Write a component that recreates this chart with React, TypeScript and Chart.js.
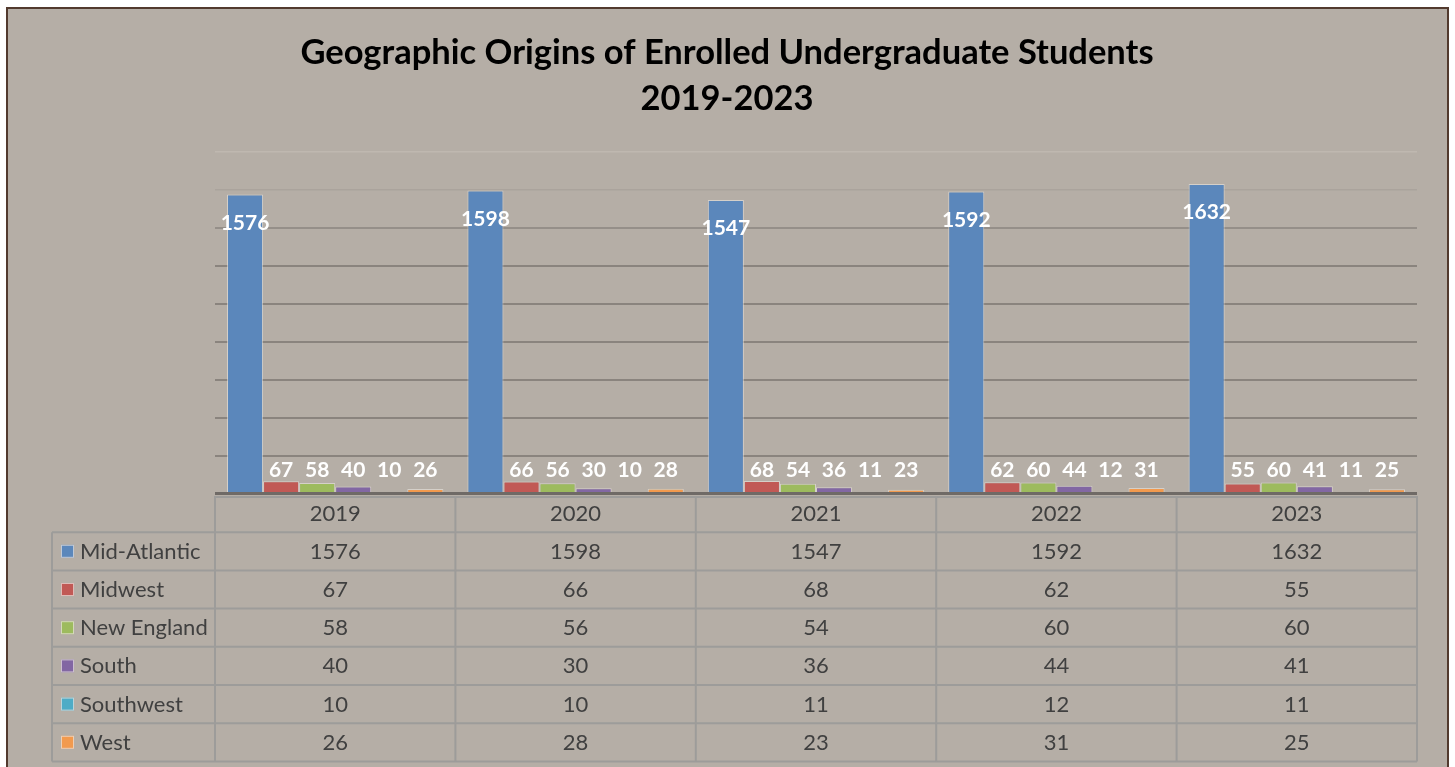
import React, { useEffect, useRef } from "react";
import { Chart, registerables } from "chart.js";

Chart.register(...registerables);

const years = ["2019", "2020", "2021", "2022", "2023"];
const regionNames = ["Mid-Atlantic", "Midwest", "New England", "South", "Southwest", "West"];
const midAtlantic = [1576, 1598, 1547, 1592, 1632];
const midwest = [67, 66, 68, 62, 55];
const newEngland = [58, 56, 54, 60, 60];
const south = [40, 30, 36, 44, 41];
const southwest = [10, 10, 11, 12, 11];
const west = [26, 28, 23, 31, 25];
const titleLines = ["Geographic Origins of Enrolled Undergraduate Students", "2019-2023"];
const seriesValues = [midAtlantic, midwest, newEngland, south, southwest, west];
const seriesColors = ["#5b87bb", "#c15955", "#9dbb5e", "#8267a3", "#4eacc6", "#f29a4e"];

const BG = "#b5aea6";
const FONT = 'Lato, "Open Sans", "DejaVu Sans", sans-serif';

const overlayPlugin = {
  id: "overlay",
  afterDatasetsDraw(chart: any) {
    const ctx = chart.ctx;
    const area = chart.chartArea;
    // axis line over bars
    ctx.save();
    ctx.fillStyle = "#6f6a66";
    ctx.fillRect(area.left, area.bottom - 2, area.right - area.left, 3);
    // data labels
    ctx.fillStyle = "#ffffff";
    ctx.font = `bold 21px ${FONT}`;
    ctx.textAlign = "center";
    ctx.textBaseline = "middle";
    chart.data.datasets.forEach((ds: any, di: number) => {
      const meta = chart.getDatasetMeta(di);
      meta.data.forEach((el: any, i: number) => {
        const y = Math.min(el.y + 28.5, el.base - 22.5);
        ctx.fillText(String(ds.data[i]), el.x, y);
      });
    });
    ctx.restore();
  },
  afterDraw(chart: any) {
    const ctx = chart.ctx;
    const area = chart.chartArea;
    const xs = chart.scales.x;
    const n = years.length;
    const colW = (area.right - area.left) / n;
    const top = area.bottom;
    const rowH = 38.2;
    const leftX = 52;
    const rows = chart.data.datasets.length;
    const bottom = top + rowH * (rows + 1);
    ctx.save();
    // title
    ctx.fillStyle = "#000000";
    ctx.font = `bold 34.5px ${FONT}`;
    ctx.textAlign = "center";
    ctx.textBaseline = "middle";
    ctx.fillText(titleLines[0], 727, 53);
    ctx.fillText(titleLines[1], 727, 99);

    // table lines
    ctx.strokeStyle = "#9d9c9a";
    ctx.lineWidth = 2;
    const line = (x1: number, y1: number, x2: number, y2: number) => {
      ctx.beginPath();
      ctx.moveTo(x1, y1);
      ctx.lineTo(x2, y2);
      ctx.stroke();
    };
    line(area.left, top + 3, area.right, top + 3);
    for (let r = 1; r <= rows + 1; r++) {
      const y = top + r * rowH;
      line(leftX, y, area.right, y);
    }
    line(leftX, top + rowH, leftX, bottom);
    for (let c = 0; c <= n; c++) {
      const x = area.left + c * colW;
      line(x, top + 2, x, bottom);
    }
    // header text
    ctx.fillStyle = "#404040";
    ctx.font = `22px ${FONT}`;
    ctx.textAlign = "center";
    ctx.textBaseline = "middle";
    years.forEach((yr, i) => {
      ctx.fillText(yr, xs.getPixelForValue(i), top + rowH / 2 + 1);
    });
    chart.data.datasets.forEach((ds: any, r: number) => {
      const cy = top + (r + 1) * rowH + rowH / 2 + 0.5;
      ctx.fillStyle = ds.backgroundColor;
      ctx.fillRect(61, cy - 7, 13, 13);
      ctx.strokeStyle = "rgba(235,230,225,0.7)";
      ctx.lineWidth = 1;
      ctx.strokeRect(61.5, cy - 6.5, 12, 12);
      ctx.fillStyle = "#404040";
      ctx.textAlign = "left";
      ctx.fillText(ds.label, 80, cy);
      ctx.textAlign = "center";
      ds.data.forEach((v: number, i: number) => {
        ctx.fillText(String(v), xs.getPixelForValue(i), cy);
      });
    });
    ctx.restore();
  },
};

function gridColor(v: number) {
  if (v === 0) return "rgba(0,0,0,0)";
  if (v >= 1800) return "#bfb8b0";
  if (v >= 1600) return "#aaa39c";
  if (v >= 1400) return "#958f89";
  return "#8a847e";
}

export default function App() {
  const ref = useRef<HTMLCanvasElement>(null);
  useEffect(() => {
    const canvas = ref.current!;
    const chart = new Chart(canvas, {
      type: "bar",
      data: {
        labels: years,
        datasets: regionNames.map((name, i) => ({
          label: name,
          data: seriesValues[i],
          backgroundColor: seriesColors[i],
          borderColor: "rgba(235,230,225,0.6)",
          borderWidth: 1,
          categoryPercentage: 0.9,
          barPercentage: 1.0,
        })),
      },
      options: {
        responsive: false,
        animation: false,
        devicePixelRatio: 1,
        layout: { padding: { left: 215, right: 38, top: 152, bottom: 273 } },
        plugins: {
          legend: { display: false },
          title: { display: false },
          tooltip: { enabled: false },
        },
        scales: {
          x: { display: false },
          y: {
            min: 0,
            max: 1800,
            ticks: { display: false, stepSize: 200 },
            border: { display: false },
            grid: {
              drawTicks: false,
              color: (c: any) => gridColor(c.tick ? c.tick.value : 0),
              lineWidth: (c: any) => (c.tick && c.tick.value >= 1600 ? 1.5 : 2),
            },
          },
        },
      },
      plugins: [overlayPlugin],
    } as any);
    return () => chart.destroy();
  }, []);
  return (
    <div style={{ position: "fixed", left: 0, top: 0, width: 1455, height: 767, background: "#ffffff", overflow: "hidden" }}>
      <div
        style={{
          position: "absolute",
          left: 6,
          top: 7,
          width: 1443,
          height: 800,
          background: BG,
          borderLeft: "2px solid #523a2e",
          borderTop: "2px solid #523a2e",
          borderRight: "2px solid #523a2e",
          boxSizing: "border-box",
        }}
      />
      <canvas ref={ref} width={1455} height={767} style={{ position: "absolute", left: 0, top: 0, width: 1455, height: 767 }} />
    </div>
  );
}
